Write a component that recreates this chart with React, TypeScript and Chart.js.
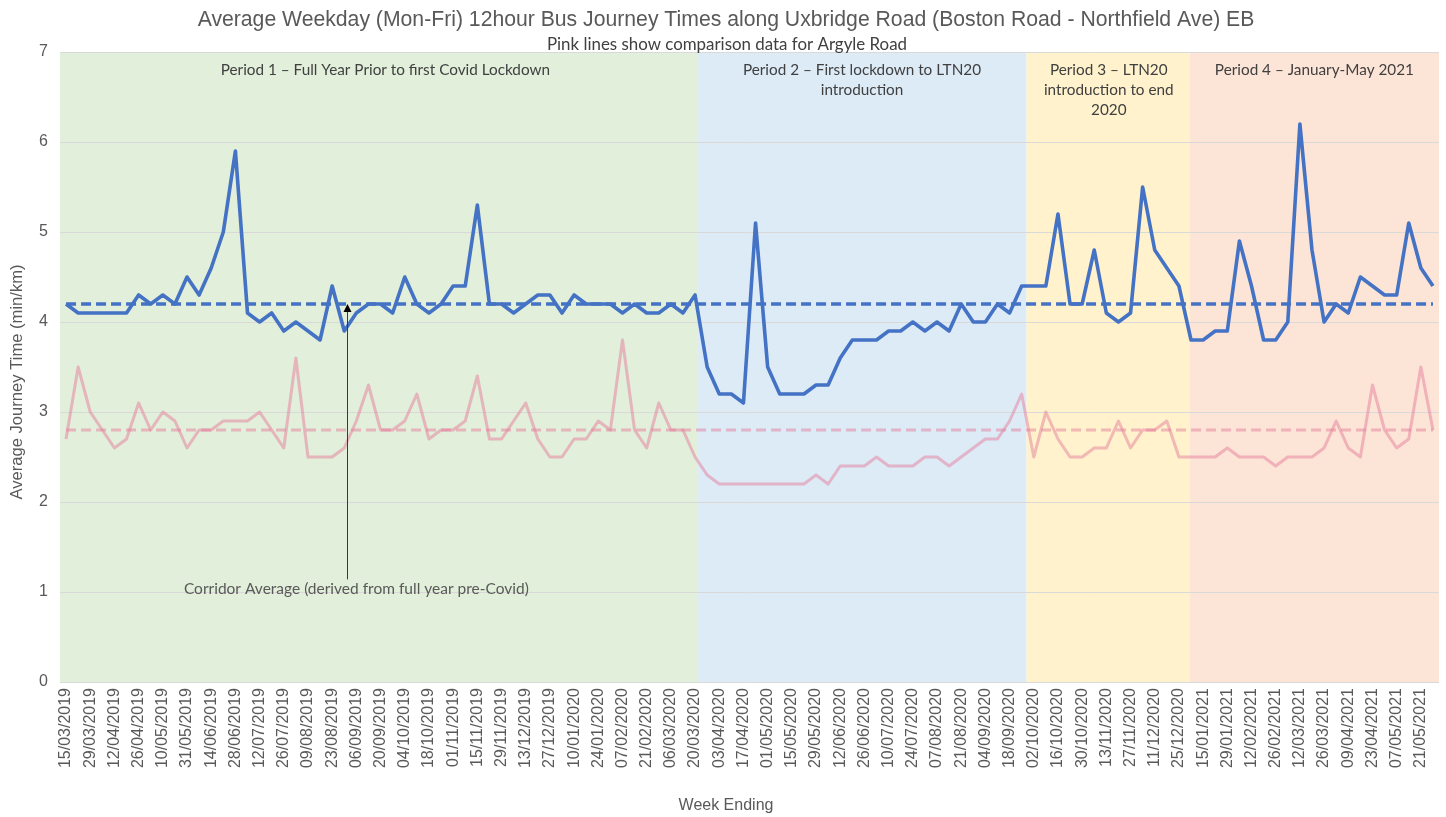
import React, { useEffect, useRef } from "react";
import { Chart, registerables } from "chart.js";

Chart.register(...registerables);

// ---------- DATA ----------
const weekEnding: string[] = [
  "15/03/2019", "22/03/2019", "29/03/2019", "05/04/2019", "12/04/2019", "19/04/2019", "26/04/2019", "03/05/2019",
  "10/05/2019", "24/05/2019", "31/05/2019", "07/06/2019", "14/06/2019", "21/06/2019", "28/06/2019", "05/07/2019",
  "12/07/2019", "19/07/2019", "26/07/2019", "02/08/2019", "09/08/2019", "16/08/2019", "23/08/2019", "30/08/2019",
  "06/09/2019", "13/09/2019", "20/09/2019", "27/09/2019", "04/10/2019", "11/10/2019", "18/10/2019", "25/10/2019",
  "01/11/2019", "08/11/2019", "15/11/2019", "22/11/2019", "29/11/2019", "06/12/2019", "13/12/2019", "20/12/2019",
  "27/12/2019", "03/01/2020", "10/01/2020", "17/01/2020", "24/01/2020", "31/01/2020", "07/02/2020", "14/02/2020",
  "21/02/2020", "28/02/2020", "06/03/2020", "13/03/2020", "20/03/2020", "27/03/2020", "03/04/2020", "10/04/2020",
  "17/04/2020", "24/04/2020", "01/05/2020", "08/05/2020", "15/05/2020", "22/05/2020", "29/05/2020", "05/06/2020",
  "12/06/2020", "19/06/2020", "26/06/2020", "03/07/2020", "10/07/2020", "17/07/2020", "24/07/2020", "31/07/2020",
  "07/08/2020", "14/08/2020", "21/08/2020", "28/08/2020", "04/09/2020", "11/09/2020", "18/09/2020", "25/09/2020",
  "02/10/2020", "09/10/2020", "16/10/2020", "23/10/2020", "30/10/2020", "06/11/2020", "13/11/2020", "20/11/2020",
  "27/11/2020", "04/12/2020", "11/12/2020", "18/12/2020", "25/12/2020", "08/01/2021", "15/01/2021", "22/01/2021",
  "29/01/2021", "05/02/2021", "12/02/2021", "19/02/2021", "26/02/2021", "05/03/2021", "12/03/2021", "19/03/2021",
  "26/03/2021", "02/04/2021", "09/04/2021", "16/04/2021", "23/04/2021", "30/04/2021", "07/05/2021", "14/05/2021",
  "21/05/2021", "28/05/2021",
];

// Uxbridge Road (Boston Road - Northfield Ave) EB, min/km
const uxbridgeRoad: number[] = [
  4.2, 4.1, 4.1, 4.1, 4.1, 4.1, 4.3, 4.2, 4.3, 4.2, 4.5, 4.3, 4.6, 5.0, 5.9, 4.1,
  4.0, 4.1, 3.9, 4.0, 3.9, 3.8, 4.4, 3.9, 4.1, 4.2, 4.2, 4.1, 4.5, 4.2, 4.1, 4.2,
  4.4, 4.4, 5.3, 4.2, 4.2, 4.1, 4.2, 4.3, 4.3, 4.1, 4.3, 4.2, 4.2, 4.2, 4.1, 4.2,
  4.1, 4.1, 4.2, 4.1, 4.3, 3.5, 3.2, 3.2, 3.1, 5.1, 3.5, 3.2, 3.2, 3.2, 3.3, 3.3,
  3.6, 3.8, 3.8, 3.8, 3.9, 3.9, 4.0, 3.9, 4.0, 3.9, 4.2, 4.0, 4.0, 4.2, 4.1, 4.4,
  4.4, 4.4, 5.2, 4.2, 4.2, 4.8, 4.1, 4.0, 4.1, 5.5, 4.8, 4.6, 4.4, 3.8, 3.8, 3.9,
  3.9, 4.9, 4.4, 3.8, 3.8, 4.0, 6.2, 4.8, 4.0, 4.2, 4.1, 4.5, 4.4, 4.3, 4.3, 5.1,
  4.6, 4.4,
];

// Argyle Road comparison, min/km
const argyleRoad: number[] = [
  2.7, 3.5, 3.0, 2.8, 2.6, 2.7, 3.1, 2.8, 3.0, 2.9, 2.6, 2.8, 2.8, 2.9, 2.9, 2.9,
  3.0, 2.8, 2.6, 3.6, 2.5, 2.5, 2.5, 2.6, 2.9, 3.3, 2.8, 2.8, 2.9, 3.2, 2.7, 2.8,
  2.8, 2.9, 3.4, 2.7, 2.7, 2.9, 3.1, 2.7, 2.5, 2.5, 2.7, 2.7, 2.9, 2.8, 3.8, 2.8,
  2.6, 3.1, 2.8, 2.8, 2.5, 2.3, 2.2, 2.2, 2.2, 2.2, 2.2, 2.2, 2.2, 2.2, 2.3, 2.2,
  2.4, 2.4, 2.4, 2.5, 2.4, 2.4, 2.4, 2.5, 2.5, 2.4, 2.5, 2.6, 2.7, 2.7, 2.9, 3.2,
  2.5, 3.0, 2.7, 2.5, 2.5, 2.6, 2.6, 2.9, 2.6, 2.8, 2.8, 2.9, 2.5, 2.5, 2.5, 2.5,
  2.6, 2.5, 2.5, 2.5, 2.4, 2.5, 2.5, 2.5, 2.6, 2.9, 2.6, 2.5, 3.3, 2.8, 2.6, 2.7,
  3.5, 2.8,
];

const corridorAverage = 4.2; // derived from full year pre-Covid
const argyleAverage = 2.8;

const yTickValues: number[] = [0, 1, 2, 3, 4, 5, 6, 7];

const periodTitles: string[][] = [
  ["Period 1 \u2013 Full Year Prior to first Covid Lockdown"],
  ["Period 2 \u2013 First lockdown to LTN20", "introduction"],
  ["Period 3 \u2013 LTN20", "introduction to end", "2020"],
  ["Period 4 \u2013 January-May 2021"],
];

const chartTitle =
  "Average Weekday (Mon-Fri) 12hour Bus Journey Times along Uxbridge Road (Boston Road - Northfield Ave) EB";
const chartSubtitle = "Pink lines show comparison data for Argyle Road";
const annotationText = "Corridor Average (derived from full year pre-Covid)";
const xAxisTitle = "Week Ending";
const yAxisTitle = "Average Journey Time (min/km)";

// ---------- LAYOUT / STYLE ----------
// period shading extents, in category-index units
const periodBounds: [number, number][] = [
  [-0.5, 52.25],
  [52.25, 79.4],
  [79.4, 92.9],
  [92.9, 113.5],
];
const periodLabelCenters = [26.4, 65.8, 86.2, 103.2];
const periodColors = ["#E2EFDA", "#DDEBF7", "#FFF2CC", "#FCE4D6"];

const arrowAt = { index: 23.2, top: 4.2, bottom: 1.14, textIndex: 24.0, textValue: 1.03 };

const BLUE = "#4472C4";
const PINK = "rgba(230,125,155,0.5)";
const TEXT_GREY = "#595959";
const NOTE_FONT = "Lato, 'Noto Sans', sans-serif";
const AXIS_FONT = "'Liberation Sans', Arial, sans-serif";

const decorPlugin = {
  id: "decor",
  beforeDraw(chart: any) {
    const { ctx, chartArea, scales } = chart;
    const x = scales.x;
    ctx.save();
    periodBounds.forEach((b, i) => {
      const x0 = x.getPixelForValue(b[0]);
      const x1 = x.getPixelForValue(b[1]);
      ctx.fillStyle = periodColors[i];
      ctx.fillRect(x0, chartArea.top, x1 - x0, chartArea.bottom - chartArea.top);
    });
    ctx.restore();
  },
  afterDatasetsDraw(chart: any) {
    const { ctx, chartArea, scales } = chart;
    const x = scales.x;
    const y = scales.y;
    ctx.save();
    // period labels
    ctx.fillStyle = "#404040";
    ctx.font = `15.3px ${NOTE_FONT}`;
    ctx.textAlign = "center";
    ctx.textBaseline = "middle";
    periodTitles.forEach((lines, i) => {
      const cx = x.getPixelForValue(periodLabelCenters[i]);
      lines.forEach((ln, j) => {
        ctx.fillText(ln, cx, chartArea.top + 18 + j * 20);
      });
    });
    // annotation arrow
    const ax = Math.round(x.getPixelForValue(arrowAt.index)) + 0.5;
    const yTop = y.getPixelForValue(arrowAt.top);
    const yBot = y.getPixelForValue(arrowAt.bottom);
    ctx.strokeStyle = "#3a3a3a";
    ctx.lineWidth = 1;
    ctx.beginPath();
    ctx.moveTo(ax, yBot);
    ctx.lineTo(ax, yTop + 4);
    ctx.stroke();
    ctx.fillStyle = "#000000";
    ctx.beginPath();
    ctx.moveTo(ax, yTop);
    ctx.lineTo(ax - 4, yTop + 8);
    ctx.lineTo(ax + 4, yTop + 8);
    ctx.closePath();
    ctx.fill();
    ctx.fillStyle = TEXT_GREY;
    ctx.font = `15.5px ${NOTE_FONT}`;
    ctx.textAlign = "center";
    ctx.fillText(annotationText, x.getPixelForValue(arrowAt.textIndex), y.getPixelForValue(arrowAt.textValue));
    ctx.restore();
  },
  afterDraw(chart: any) {
    const { ctx } = chart;
    ctx.save();
    ctx.textAlign = "center";
    ctx.textBaseline = "middle";
    ctx.fillStyle = TEXT_GREY;
    ctx.font = `21.2px ${AXIS_FONT}`;
    ctx.fillText(chartTitle, 726, 20);
    ctx.fillStyle = "#404040";
    ctx.font = `16.9px ${NOTE_FONT}`;
    ctx.fillText(chartSubtitle, 727, 45);
    // axis titles
    ctx.fillStyle = TEXT_GREY;
    ctx.font = `16px ${AXIS_FONT}`;
    ctx.fillText(xAxisTitle, 726, 806);
    ctx.save();
    ctx.translate(17, 382);
    ctx.rotate(-Math.PI / 2);
    ctx.font = `16.6px ${AXIS_FONT}`;
    ctx.fillText(yAxisTitle, 0, 0);
    ctx.restore();
    ctx.restore();
  },
};

export default function App() {
  const canvasRef = useRef<HTMLCanvasElement | null>(null);

  useEffect(() => {
    const canvas = canvasRef.current;
    if (!canvas) return;
    const first = weekEnding[0];
    const last = weekEnding[weekEnding.length - 1];
    const chart = new Chart(canvas, {
      type: "line",
      data: {
        labels: weekEnding,
        datasets: [
          {
            label: "Uxbridge Road",
            data: uxbridgeRoad,
            borderColor: BLUE,
            borderWidth: 3.6,
            borderJoinStyle: "round",
            pointRadius: 0,
            tension: 0,
            order: 1,
          },
          {
            label: "Corridor Average",
            data: [
              { x: first, y: corridorAverage },
              { x: last, y: corridorAverage },
            ] as any,
            borderColor: BLUE,
            borderWidth: 3.6,
            borderDash: [10, 5],
            pointRadius: 0,
            order: 2,
          },
          {
            label: "Argyle Road",
            data: argyleRoad,
            borderColor: PINK,
            borderWidth: 3,
            borderJoinStyle: "round",
            pointRadius: 0,
            tension: 0,
            order: 3,
          },
          {
            label: "Argyle Average",
            data: [
              { x: first, y: argyleAverage },
              { x: last, y: argyleAverage },
            ] as any,
            borderColor: PINK,
            borderWidth: 3,
            borderDash: [10, 5],
            pointRadius: 0,
            order: 4,
          },
        ],
      },
      options: {
        responsive: false,
        animation: false,
        devicePixelRatio: 1,
        layout: { padding: { top: 52, right: 7, left: 0, bottom: 0 } },
        plugins: {
          legend: { display: false },
          tooltip: { enabled: false },
          title: { display: false },
        },
        scales: {
          x: {
            type: "category",
            offset: true,
            grid: { display: false, drawTicks: false },
            border: { display: false },
            ticks: {
              autoSkip: false,
              minRotation: 90,
              maxRotation: 90,
              padding: 6,
              color: TEXT_GREY,
              font: { family: AXIS_FONT, size: 16 },
              callback: (_v: any, idx: number) => (idx % 2 === 0 ? weekEnding[idx] : ""),
            },
            afterFit: (s: any) => {
              s.height = 135;
              s.paddingLeft = 0;
              s.paddingRight = 0;
            },
          },
          y: {
            min: 0,
            max: 7,
            afterBuildTicks: (s: any) => {
              s.ticks = yTickValues.map((v) => ({ value: v }));
            },
            grid: { color: "#d9d9d9", lineWidth: 1, drawTicks: false },
            border: { display: false },
            ticks: {
              padding: 12,
              color: TEXT_GREY,
              font: { family: AXIS_FONT, size: 16 },
            },
            afterFit: (s: any) => {
              s.width = 60;
              s.paddingTop = 0;
              s.paddingBottom = 0;
            },
          },
        },
      },
      plugins: [decorPlugin],
    });
    return () => chart.destroy();
  }, []);

  return (
    <div style={{ position: "fixed", left: 0, top: 0, width: 1446, height: 817, background: "#ffffff" }}>
      <canvas ref={canvasRef} width={1446} height={817} style={{ display: "block" }} />
    </div>
  );
}
